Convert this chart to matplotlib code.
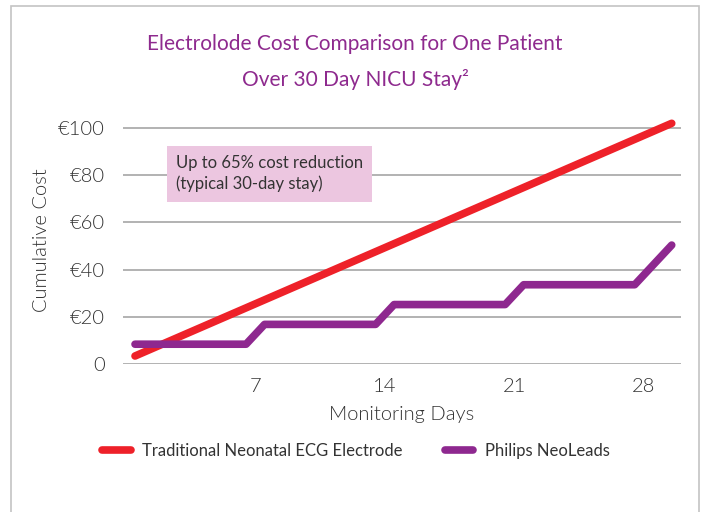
import matplotlib.pyplot as plt
from matplotlib.patches import Rectangle

plt.rcParams['font.family'] = ['Lato', 'DejaVu Sans']

# data
days = list(range(1, 31))
traditional_cost = [3.4, 6.8, 10.2, 13.6, 17.0, 20.4, 23.8, 27.2, 30.6, 34.0,
                    37.4, 40.8, 44.2, 47.6, 51.0, 54.4, 57.8, 61.2, 64.6, 68.0,
                    71.4, 74.8, 78.2, 81.6, 85.0, 88.4, 91.8, 95.2, 98.6, 102.0]
neoleads_cost = [8.4, 8.4, 8.4, 8.4, 8.4, 8.4, 8.4,
                 16.8, 16.8, 16.8, 16.8, 16.8, 16.8, 16.8,
                 25.2, 25.2, 25.2, 25.2, 25.2, 25.2, 25.2,
                 33.6, 33.6, 33.6, 33.6, 33.6, 33.6, 33.6,
                 42.0, 50.4]
x_tick_days = [7, 14, 21, 28]
y_ticks = [0, 20, 40, 60, 80, 100]
y_tick_labels = ['0', '€20', '€40', '€60', '€80', '€100']

red = '#ee2129'
purple = '#8e288f'
title_color = '#8e2a8e'
text_color = '#333333'

fig = plt.figure(figsize=(7.04, 5.12), dpi=100)
ax = fig.add_axes([0.1747, 0.289, 0.7926, 0.484])

# light frame around the whole chart
fig.patches.append(Rectangle((11 / 704, -0.05), 688 / 704, 1.05 - 6 / 512,
                             transform=fig.transFigure, fill=False,
                             edgecolor='#c4c4c4', linewidth=1.2))

ax.plot(days, traditional_cost, color=red, linewidth=5.5,
        solid_capstyle='round', solid_joinstyle='round', zorder=3,
        label='Traditional Neonatal ECG Electrode', clip_on=False)
ax.plot(days, neoleads_cost, color=purple, linewidth=5.5,
        solid_capstyle='round', solid_joinstyle='round', zorder=3,
        label='Philips NeoLeads', clip_on=False)

ax.set_xlim(0.35, 30.5)
ax.set_ylim(0, 105)
ax.set_yticks(y_ticks)
ax.set_yticklabels(y_tick_labels, fontweight=300)
ax.set_xticks([d + 0.5 for d in x_tick_days])
ax.set_xticklabels([str(d) for d in x_tick_days], fontweight=300)
ax.tick_params(length=0, labelsize=14.5, colors=text_color)
ax.tick_params(axis='x', pad=10)
ax.tick_params(axis='y', pad=13)
ax.grid(axis='y', color='#b2b2b2', linewidth=1.4)
ax.set_axisbelow(True)
for s in ax.spines.values():
    s.set_visible(False)

ax.set_xlabel('Monitoring Days', fontsize=14.5, color=text_color, labelpad=8,
              fontweight=300)
ax.set_ylabel('Cumulative Cost', fontsize=14.5, color=text_color, labelpad=6,
              fontweight=300)

ax.text(3.2, 88.5, 'Up to 65% cost reduction\n(typical 30-day stay)',
        fontsize=12, color=text_color, va='top', ha='left', linespacing=1.35,
        zorder=2,
        bbox=dict(boxstyle='square,pad=0.55', facecolor='#ecc6e0', edgecolor='none'))

fig.text(355 / 704, 1 - 44 / 512, 'Electrolode Cost Comparison for One Patient',
         ha='center', va='center', fontsize=15, color=title_color)
fig.text(355 / 704, 1 - 79 / 512, 'Over 30 Day NICU Stay²',
         ha='center', va='center', fontsize=15, color=title_color)

fig.legend(loc='center', bbox_to_anchor=(356 / 704, 1 - 451 / 512), ncol=2,
           frameon=False, fontsize=12, handlelength=1.7, handletextpad=0.7,
           columnspacing=2.5, labelcolor=text_color)

fig.savefig('out.png', dpi=100)
